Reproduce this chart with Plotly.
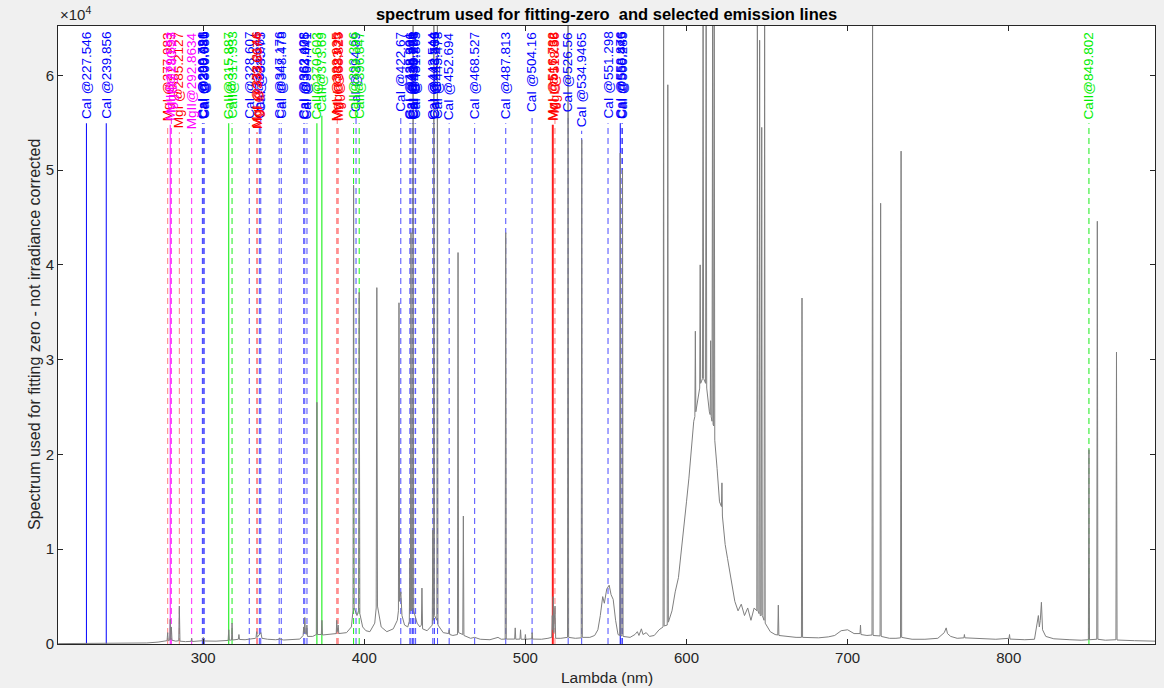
import plotly.graph_objects as go

# ---------------- data ----------------
spec_wl = [
    210, 225, 240, 247.6, 248, 248.4, 265, 272, 276.5, 277.6, 277.98, 278.35,
    279.2, 279.55, 279.9, 280.27, 280.65, 283, 284.85, 285.21, 285.6, 289,
    292.5, 292.86, 293.2, 298, 299.7, 300.1, 300.5, 308, 313, 315.5, 315.89,
    316.25, 317.6, 317.93, 318.3, 320, 321.85, 322.2, 322.55, 326, 330, 332.5,
    332.85, 333.2, 333.55, 335, 335.8, 336.5, 340, 345, 347.2, 347.5, 347.8,
    350, 356, 360, 362.05, 362.4, 362.75, 363.1, 363.45, 364.05, 364.4, 364.75,
    368, 370.25, 370.6, 370.95, 373.35, 373.7, 374.05, 378, 382.6, 382.9,
    383.2, 383.8, 384.2, 389, 392, 393.0, 393.37, 393.75, 395.5, 396.45,
    396.85, 397.25, 399, 401, 403.5, 406.5, 407.4, 407.8, 408.2, 410.5, 414,
    418, 420.5, 421.2, 421.55, 421.9, 422.7, 423.4, 425, 427, 427.95, 428.3,
    428.65, 429.0, 429.35, 429.95, 430.3, 430.65, 432.8, 434.5, 435.45, 435.8,
    436.2, 439, 442.2, 442.55, 442.85, 443.2, 443.55, 445.05, 445.4, 445.75,
    449, 452.35, 452.7, 453.05, 455, 457.85, 458.2, 458.55, 461.15, 461.5,
    461.85, 466, 468.5, 472, 478, 483, 485, 487.45, 487.8, 488.15, 493.35,
    493.7, 494.05, 496.65, 497, 497.35, 499.7, 500, 500.3, 503.9, 504.2, 504.5,
    510, 514, 516.35, 516.7, 517.0, 517.3, 517.6, 518.4, 518.8, 522, 526.15,
    526.5, 526.85, 531, 534.65, 535.0, 535.35, 540, 543, 545, 546.5, 548, 549,
    550.5, 552, 553.2, 554.5, 556, 557.5, 558.55, 558.88, 559.2, 559.95, 560.3,
    560.65, 565, 568, 569.5, 570.5, 572, 573, 575, 577, 580, 583, 585.45,
    585.8, 586.15, 588.05, 588.4, 588.75, 591, 593, 595, 597, 598.5, 600,
    601.5, 603, 604.5, 605.2, 605.5, 605.8, 607.5, 608.2, 608.5, 608.8, 609.95,
    610.3, 610.65, 611.85, 612.2, 612.55, 614.2, 614.7, 615, 615.3, 615.85,
    616.2, 616.5, 616.85, 617.2, 617.55, 619, 620.5, 621.7, 622, 622.3, 624,
    625.5, 627, 628.5, 630, 632, 634, 636, 638, 640, 642, 643.65, 644.0,
    644.35, 645.05, 645.4, 645.75, 646.35, 646.7, 647.05, 648.15, 648.5,
    648.85, 652, 655, 656.65, 657, 657.35, 662, 668, 671.35, 671.7, 672.05,
    676, 682, 688, 692, 696, 700, 704, 707.7, 708, 708.3, 712, 715.15, 715.5,
    715.85, 720.15, 720.5, 720.85, 726, 730, 732.85, 733.2, 733.55, 740, 748,
    756, 760, 761.2, 762, 764, 768, 772.2, 772.5, 772.8, 782, 792, 800.2,
    800.5, 800.8, 810, 816, 818.4, 819, 819.6, 820.3, 821, 823, 828, 838, 845,
    849.45, 849.8, 850.15, 854.65, 855.0, 855.35, 860, 866.55, 866.9, 867.25,
    878, 890.8,
]
spec_int = [
    40, 50, 60, 60, 130, 60, 110, 200, 300, 350, 1200, 350,
    400, 2600, 450, 1800, 400, 300, 350, 4000, 300, 250,
    280, 600, 260, 300, 350, 700, 320, 300, 350, 380, 1500,
    400, 420, 2200, 420, 450, 500, 1000, 480, 450, 500, 600,
    700, 1300, 700, 1000, 1200, 600, 500, 450, 500, 650, 500,
    420, 450, 520, 900, 1800, 1200, 2800, 1100, 1000, 2000, 800,
    800, 1000, 25500, 1000, 1000, 2500, 950, 1000, 1100, 2500,
    1300, 2000, 1100, 1200, 1800, 3500, 48400, 3800, 3000, 3500,
    37100, 3200, 1800, 1400, 1300, 2200, 3800, 37600, 4000, 1800, 1300,
    1600, 2500, 3500, 36000, 4500, 5500, 3000, 2000, 1800, 2400, 9000,
    3500, 43400, 3500, 3800, 66000, 3500, 2200, 1800, 2000, 5900,
    1600, 1400, 2000, 12000, 2500, 66000, 3000, 2500, 66000, 2000,
    1200, 1100, 1500, 1000, 900, 1000, 41300, 1200, 1000, 13500,
    900, 600, 700, 500, 450, 700, 500, 520, 43400, 520, 520,
    1700, 500, 520, 1500, 500, 500, 1000, 500, 550, 1200, 520,
    500, 600, 700, 3000, 1500, 5000, 1200, 4000, 600, 600, 700,
    66000, 700, 600, 650, 53200, 700, 700, 900, 1500, 3000, 5000, 4300,
    5800, 6200, 5200, 4700, 2500, 1000, 900, 51800, 900, 850, 50000,
    800, 700, 1000, 1300, 900, 1600, 1000, 1200, 800, 900, 1500, 1800,
    66000, 1900, 2000, 59000, 2300, 3500, 5500, 7000, 10000, 12500, 15000,
    17500, 21000, 23500, 24000, 33000, 24500, 26500, 27000, 40000, 27500, 28000,
    66000, 28000, 27500, 66000, 27000, 24500, 24200, 32000, 24000, 23500,
    66000, 23200, 23000, 66000, 21500, 18500, 15000, 14500, 17000, 13500, 10500,
    9000, 7500, 6000, 4500, 3500, 4200, 3000, 3800, 2500, 3800, 3500, 66000,
    3500, 3200, 63700, 3000, 3000, 54500, 3000, 2500, 66000,
    2200, 1300, 1000, 950, 4100, 900, 800, 700, 700, 36500, 700,
    650, 650, 750, 900, 1400, 1500, 1100, 1100, 2000, 1000, 900, 950, 66000,
    900, 850, 46500, 800, 600, 600, 650, 52000, 700, 500, 500,
    600, 1200, 1700, 1100, 800, 600, 650, 1000, 650, 550, 500, 600,
    1000, 520, 450, 500, 3000, 1800, 2500, 4400, 1500, 800, 550, 450, 400,
    450, 20500, 450, 500, 44600, 500, 400, 450, 30800, 420,
    350, 300,
]

ca1_lines = [227.546, 239.856, 299.496, 299.731, 300.086, 300.686, 328.607,
             334.867, 335.75, 347.176, 348.478, 362.408, 363.075, 364.441,
             394.89, 422.67, 428.301, 428.936, 429.899, 430.253, 430.774,
             431.865, 442.544, 443.496, 443.569, 445.478, 452.694, 468.527,
             487.813, 504.16, 526.56, 534.9465, 551.298, 558.876, 559.446,
             560.285]
ca2_lines = [315.887, 317.933, 370.603, 373.69, 393.366, 396.847, 849.802]
mg1_lines = [277.983, 285.2127, 333.2146, 333.6674, 382.935, 383.23, 383.829,
             516.732, 517.268, 518.36]
mg2_lines = [279.553, 280.27, 292.8634]
solid_lines = [227.546, 239.856, 558.876, 315.887, 370.603, 373.69, 279.553,
               516.732, 517.268]

x_range = [209.9, 890.8]
y_range = [0, 65200]
x_ticks = [300, 400, 500, 600, 700, 800]
y_ticks = [0, 10000, 20000, 30000, 40000, 50000, 60000]
y_tick_text = ["0", "1", "2", "3", "4", "5", "6"]

# ---------------- styles ----------------
FONT = "Liberation Sans, Arial, Helvetica, sans-serif"
AXC = "#262626"
LABEL_SIZE = 13.5
PLOT_H = 688 - 26 - 44

species = [
    ("CaI @", ca1_lines, "#0000ff", 0.7),
    ("CaII@", ca2_lines, "#00ee00", 0.9),
    ("MgI @", mg1_lines, "#ff0000", 0.5),
    ("MgII@", mg2_lines, "#ff00ff", 0.85),
]

em = {'C': 0.722, 'a': 0.556, 'I': 0.278, 'M': 0.833, 'g': 0.556,
      ' ': 0.278, '@': 1.015, '.': 0.278}


def text_px(s):
    return sum(em.get(c, 0.556) for c in s) * LABEL_SIZE


fig = go.Figure()
annotations = []

for prefix, lines, color, dash_op in species:
    groups = {"solid": ([], []), "dash": ([], [])}
    for w in lines:
        label = prefix + str(w)
        top_px = 5 + text_px(label) + 5
        y_top = y_range[1] * (1 - top_px / PLOT_H)
        key = "solid" if w in solid_lines else "dash"
        gx, gy = groups[key]
        gx += [w, w, None]
        gy += [0, y_top, None]
        annotations.append(dict(
            x=w, xref="x", y=1 - 5 / PLOT_H, yref="paper",
            text=label, showarrow=False, textangle=-90,
            xanchor="center", yanchor="top",
            font=dict(family=FONT, size=LABEL_SIZE, color=color),
            borderpad=0,
        ))
    for key, (gx, gy) in groups.items():
        if not gx:
            continue
        fig.add_trace(go.Scatter(
            x=gx, y=gy, mode="lines", hoverinfo="skip", showlegend=False,
            opacity=1.0 if key == "solid" else dash_op,
            line=dict(color=color, width=1,
                      dash="solid" if key == "solid" else "6px,4px"),
        ))

fig.add_trace(go.Scatter(
    x=spec_wl, y=spec_int, mode="lines", showlegend=False,
    line=dict(color="#7f7f7f", width=1),
))

# axis titles, exponent, title
annotations += [
    dict(x=0.5, xref="paper", y=-(678 - 644) / PLOT_H, yref="paper",
         text="Lambda (nm)", showarrow=False, xanchor="center",
         yanchor="middle", font=dict(family=FONT, size=15.5, color=AXC)),
    dict(x=-(58 - 34) / 1097, xref="paper", y=0.5, yref="paper",
         text="Spectrum used for fitting zero - not irradiance corrected",
         showarrow=False, textangle=-90, xanchor="center", yanchor="middle",
         font=dict(family=FONT, size=16, color=AXC)),
    dict(x=0, xref="paper", y=1, yref="paper", text="×10<sup>4</sup>",
         showarrow=False, xanchor="left", yanchor="bottom", yshift=1,
         font=dict(family=FONT, size=15, color=AXC)),
]

fig.update_layout(
    width=1164, height=688,
    margin=dict(l=58, r=9, t=26, b=44),
    paper_bgcolor="#f0f0f0", plot_bgcolor="white",
    title=dict(text="<b>spectrum used for fitting-zero  and selected emission lines</b>",
               x=0.5, xref="paper", y=1 - 14 / 688, yref="container",
               xanchor="center", yanchor="middle",
               font=dict(family=FONT, size=16.5, color="#000000")),
    annotations=annotations,
    font=dict(family=FONT),
)
fig.update_xaxes(range=x_range, tickvals=x_ticks, ticks="inside", ticklen=5,
                 tickcolor=AXC, showline=True, linecolor=AXC, linewidth=1,
                 mirror="ticks", showgrid=False, zeroline=False,
                 tickfont=dict(family=FONT, size=15, color=AXC))
fig.update_yaxes(range=y_range, tickvals=y_ticks, ticktext=y_tick_text,
                 ticks="inside", ticklen=5, tickcolor=AXC, showline=True,
                 linecolor=AXC, linewidth=1, mirror="ticks", showgrid=False,
                 zeroline=False, tickfont=dict(family=FONT, size=15, color=AXC))

fig.write_html("out.html")
